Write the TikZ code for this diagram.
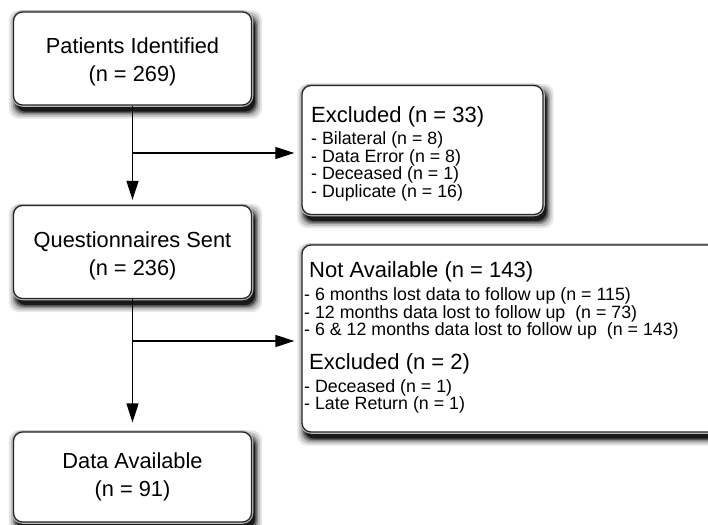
\documentclass[tikz,border=0pt]{standalone}
\usepackage{fontspec}
\setmainfont{Liberation Sans}
\usetikzlibrary{arrows.meta,backgrounds}
\definecolor{edge}{HTML}{262626}
\tikzset{
  box/.style={draw=edge, line width=1.3pt, rounded corners=9pt, fill=white, inner sep=0pt,
    preaction={draw=gray!55, line width=3.5pt}},
  mainbox/.style={box, minimum width=238pt},
  maintext/.style={inner sep=0pt, align=center, font=\fontsize{21.8}{28}\selectfont},
  title/.style={anchor=west, inner sep=0pt, font=\fontsize{22}{26}\selectfont},
  items/.style={anchor=west, inner sep=0pt, align=left, font=\fontsize{17.8}{15.8}\selectfont},
  flow/.style={line width=1.4pt, -{Triangle[length=19pt,width=12pt]}},
  shadowlayer/.style={fill=black, rounded corners=10pt}
}
\begin{document}
\begin{tikzpicture}[x=1pt,y=-1pt]
\clip (0,0) rectangle (708,524);
% main boxes
\node[mainbox, minimum height=93pt] (b1) at (132.5,58.5) {};
\node[maintext] (l1) at (132.5,62) {Patients Identified\\(n = 269)};
\node[mainbox, minimum height=93pt] (b3) at (132.5,252) {};
\node[maintext] (l3) at (132.5,256) {Questionnaires Sent\\(n = 236)};
\node[mainbox, minimum height=90pt] (b5) at (132.5,477) {};
\node[maintext] (l5) at (132.5,477) {Data Available\\(n = 91)};
% side boxes
\node[box, minimum width=241pt, minimum height=129pt] (b2) at (422.5,150) {};
\node[title] (t2) at (311,117) {Excluded (n = 33)};
\node[items] (i2) at (311,166.5) {- Bilateral (n = 8)\\- Data Error (n = 8)\\- Deceased (n = 1)\\- Duplicate (n = 16)};
\node[box, minimum width=420pt, minimum height=187pt] (b4) at (512,338.5) {};
\node[title] (t4) at (309,272) {Not Available (n = 143)};
\node[items] (i4) at (304,313.5) {- 6 months lost data to follow up (n = 115)\\- 12 months data lost to follow up\ \ (n = 73)\\- 6 \& 12 months data lost to follow up\ \ (n = 143)};
\node[title] (t5) at (309,364) {Excluded (n = 2)};
\node[items] (i5) at (304,396.5) {- Deceased (n = 1)\\- Late Return (n = 1)};
% shadows
\begin{scope}[on background layer]
\fill[white] (0,0) rectangle (708,524);
\foreach \n in {b1,b2,b3,b4,b5}{
  \foreach \k/\o in {7/0.10, 5/0.15, 3/0.25, 1.5/0.4, 0/0.7}{
    \fill[shadowlayer, opacity=\o]
      ([xshift=3pt-\k pt, yshift=-6pt-\k pt]\n.south west) rectangle
      ([xshift=3pt+\k pt, yshift=-6pt+\k pt]\n.north east);
  }
}
\end{scope}
% connectors
\coordinate (j1) at (132.5,153);
\coordinate (j2) at (132.5,341);
\draw[flow, shorten >=5pt] (b1.south) -- (b3.north);
\draw[flow, shorten >=7pt] (j1) -- (j1 -| b2.west);
\draw[flow, shorten >=9pt] (b3.south) -- (b5.north);
\draw[flow, shorten >=7pt] (j2) -- (j2 -| b4.west);
\end{tikzpicture}
\end{document}
